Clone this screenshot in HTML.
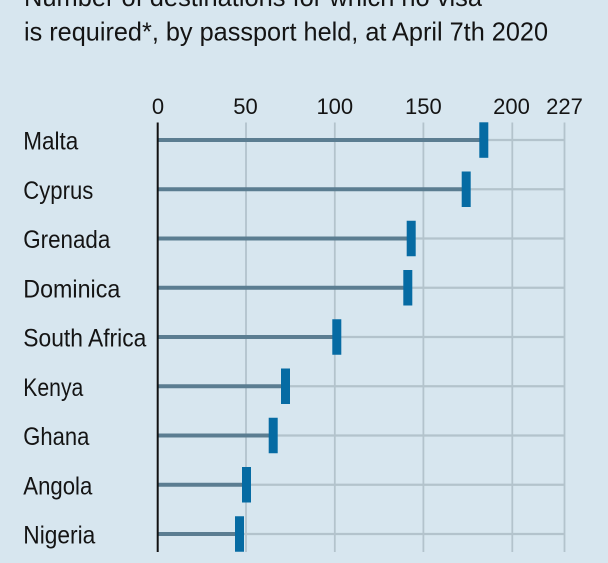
<!DOCTYPE html>
<html>
<head>
<meta charset="utf-8">
<style>
  html, body { margin:0; padding:0; background:#d7e6ef; }
  svg { display:block; }
  text { font-family: "Liberation Sans", "DejaVu Sans", sans-serif; fill:#141414; }
</style>
</head>
<body>
<svg width="608" height="563" viewBox="0 0 608 563" xmlns="http://www.w3.org/2000/svg">
  <rect x="0" y="0" width="608" height="563" fill="#d7e6ef"/>

  <!-- Title -->
  <text x="24" y="6" font-size="26" textLength="458" lengthAdjust="spacingAndGlyphs">Number of destinations for which no visa</text>
  <text x="24" y="40.7" font-size="26" textLength="524" lengthAdjust="spacingAndGlyphs">is required*, by passport held, at April 7th 2020</text>

  <!-- Tick labels -->
  <g font-size="22" text-anchor="middle">
    <text x="158" y="114">0</text>
    <text x="245.5" y="114">50</text>
    <text x="334.8" y="114">100</text>
    <text x="423.4" y="114">150</text>
    <text x="511.5" y="114">200</text>
    <text x="564.5" y="114">227</text>
  </g>

  <!-- Vertical gridlines -->
  <g stroke="#b3c3cc" stroke-width="1.8">
    <line x1="246" y1="122.5" x2="246" y2="552"/>
    <line x1="334.8" y1="122.5" x2="334.8" y2="552"/>
    <line x1="423.4" y1="122.5" x2="423.4" y2="552"/>
    <line x1="512.3" y1="122.5" x2="512.3" y2="552"/>
    <line x1="564.5" y1="122.5" x2="564.5" y2="552"/>
  </g>

  <!-- Gray horizontal background lines -->
  <g stroke="#b3c3cc" stroke-width="2.2">
    <line x1="158" y1="140" x2="564.5" y2="140"/>
    <line x1="158" y1="189.25" x2="564.5" y2="189.25"/>
    <line x1="158" y1="238.5" x2="564.5" y2="238.5"/>
    <line x1="158" y1="287.75" x2="564.5" y2="287.75"/>
    <line x1="158" y1="337" x2="564.5" y2="337"/>
    <line x1="158" y1="386.25" x2="564.5" y2="386.25"/>
    <line x1="158" y1="435.5" x2="564.5" y2="435.5"/>
    <line x1="158" y1="484.75" x2="564.5" y2="484.75"/>
    <line x1="158" y1="534" x2="564.5" y2="534"/>
  </g>

  <!-- Stems -->
  <g stroke="#5b7d91" stroke-width="4">
    <line x1="158" y1="140" x2="480" y2="140"/>
    <line x1="158" y1="189.25" x2="462" y2="189.25"/>
    <line x1="158" y1="238.5" x2="407" y2="238.5"/>
    <line x1="158" y1="287.75" x2="404" y2="287.75"/>
    <line x1="158" y1="337" x2="333" y2="337"/>
    <line x1="158" y1="386.25" x2="281.5" y2="386.25"/>
    <line x1="158" y1="435.5" x2="269" y2="435.5"/>
    <line x1="158" y1="484.75" x2="242.5" y2="484.75"/>
    <line x1="158" y1="534" x2="235.5" y2="534"/>
  </g>

  <!-- Markers -->
  <g fill="#066ba3">
    <rect x="479.3" y="122.3" width="9" height="35.5"/>
    <rect x="461.7" y="171.5" width="9" height="35.5"/>
    <rect x="406.7" y="220.75" width="9" height="35.5"/>
    <rect x="403.3" y="270" width="9" height="35.5"/>
    <rect x="332.3" y="319.25" width="9" height="35.5"/>
    <rect x="281" y="368.5" width="9" height="35.5"/>
    <rect x="268.7" y="417.75" width="9" height="35.5"/>
    <rect x="242" y="467" width="9" height="35.5"/>
    <rect x="235" y="516.25" width="9" height="35.5"/>
  </g>

  <!-- Axis line -->
  <line x1="157.7" y1="122.5" x2="157.7" y2="552" stroke="#111" stroke-width="2"/>

  <!-- Category labels -->
  <g font-size="25">
    <text x="23.3" y="149.5" textLength="55" lengthAdjust="spacingAndGlyphs">Malta</text>
    <text x="23.3" y="198.75" textLength="70" lengthAdjust="spacingAndGlyphs">Cyprus</text>
    <text x="23.3" y="248" textLength="87" lengthAdjust="spacingAndGlyphs">Grenada</text>
    <text x="23.3" y="297.25" textLength="97" lengthAdjust="spacingAndGlyphs">Dominica</text>
    <text x="23.3" y="346.5" textLength="123" lengthAdjust="spacingAndGlyphs">South Africa</text>
    <text x="23.3" y="395.75" textLength="60" lengthAdjust="spacingAndGlyphs">Kenya</text>
    <text x="23.3" y="445" textLength="66" lengthAdjust="spacingAndGlyphs">Ghana</text>
    <text x="23.3" y="494.25" textLength="69" lengthAdjust="spacingAndGlyphs">Angola</text>
    <text x="23.3" y="543.5" textLength="72" lengthAdjust="spacingAndGlyphs">Nigeria</text>
  </g>
</svg>
</body>
</html>
